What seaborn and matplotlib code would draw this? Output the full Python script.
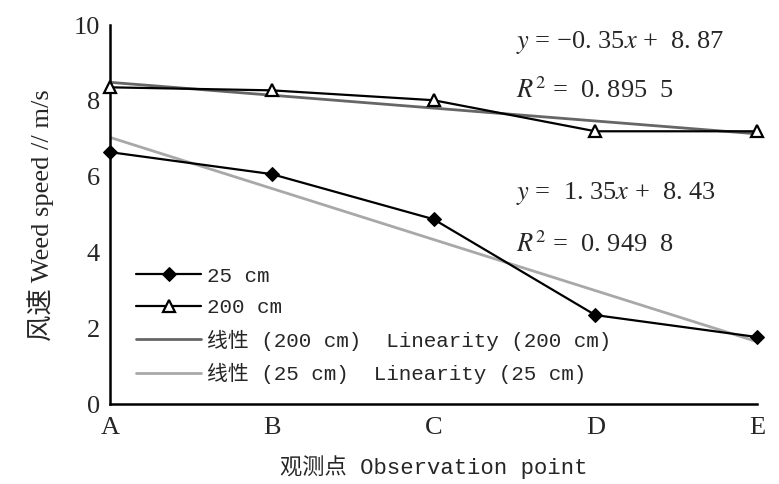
import numpy as np
import pandas as pd
import matplotlib.pyplot as plt
import seaborn as sns

# data
points = ["A", "B", "C", "D", "E"]
speed_25 = [6.65, 6.07, 4.88, 2.35, 1.77]
speed_200 = [8.36, 8.28, 8.02, 7.20, 7.20]
yticks = [0, 2, 4, 6, 8, 10]

df = pd.DataFrame({
    "pos": np.arange(len(points)),
    "point": points,
    "s25": speed_25,
    "s200": speed_200,
})

sns.set_style("white")
serif = ["Liberation Serif", "Noto Sans CJK SC"]
mono = ["Liberation Mono", "Noto Sans CJK SC"]
plt.rcParams["font.family"] = serif
plt.rcParams["mathtext.fontset"] = "stix"

fig = plt.figure(figsize=(7.79, 4.84), dpi=100)
ax = fig.add_axes([0.141, 0.165, 0.831, 0.783])

sns.lineplot(data=df, x="pos", y="s25", ax=ax, color="black", lw=1.6,
             marker="D", markersize=7, markerfacecolor="black",
             markeredgecolor="black", label="25 cm", clip_on=False, zorder=5)
sns.lineplot(data=df, x="pos", y="s200", ax=ax, color="black", lw=1.6,
             marker="^", markersize=9, markerfacecolor="white",
             markeredgecolor="black", markeredgewidth=1.6, label="200 cm",
             clip_on=False, zorder=5)
sns.regplot(data=df, x="pos", y="s200", ax=ax, scatter=False, ci=None,
            color="#666666", label="线性 (200 cm)  Linearity (200 cm)",
            line_kws={"lw": 2.0})
sns.regplot(data=df, x="pos", y="s25", ax=ax, scatter=False, ci=None,
            color="#a8a8a8", label="线性 (25 cm)  Linearity (25 cm)",
            line_kws={"lw": 2.0})

ax.set_xlim(0, len(points) - 1)
ax.set_ylim(0, 10)
ax.set_xticks(df["pos"])
ax.set_xticklabels(points)
ax.set_yticks(yticks)
ax.tick_params(axis="both", direction="in", length=6, width=1.6, labelsize=19)
ax.tick_params(axis="x", pad=9)
ax.tick_params(axis="y", pad=7)
sns.despine(ax=ax)
for s in ["left", "bottom"]:
    ax.spines[s].set_linewidth(1.8)
    ax.spines[s].set_color("black")

ax.set_xlabel("观测点 Observation point", fontsize=16, family=mono, labelpad=12)
ax.set_ylabel("风速 Weed speed // m/s", fontsize=19, family=serif, labelpad=14)

ax.text(0.627, 0.955, r"$y$ = −0. 35$x$ +  8. 87", transform=ax.transAxes,
        fontsize=19, va="center")
ax.text(0.627, 0.828, r"$R^2$ =  0. 895  5", transform=ax.transAxes,
        fontsize=19, va="center")
ax.text(0.627, 0.555, r"$y$ =  1. 35$x$ +  8. 43", transform=ax.transAxes,
        fontsize=19, va="center")
ax.text(0.627, 0.422, r"$R^2$ =  0. 949  8", transform=ax.transAxes,
        fontsize=19, va="center")

leg = ax.legend(loc="upper left", bbox_to_anchor=(0.028, 0.385), frameon=False,
                prop={"family": mono, "size": 15}, handlelength=3.1,
                handletextpad=0.3, labelspacing=0.6, borderaxespad=0)

fig.savefig("out.png", dpi=100)
